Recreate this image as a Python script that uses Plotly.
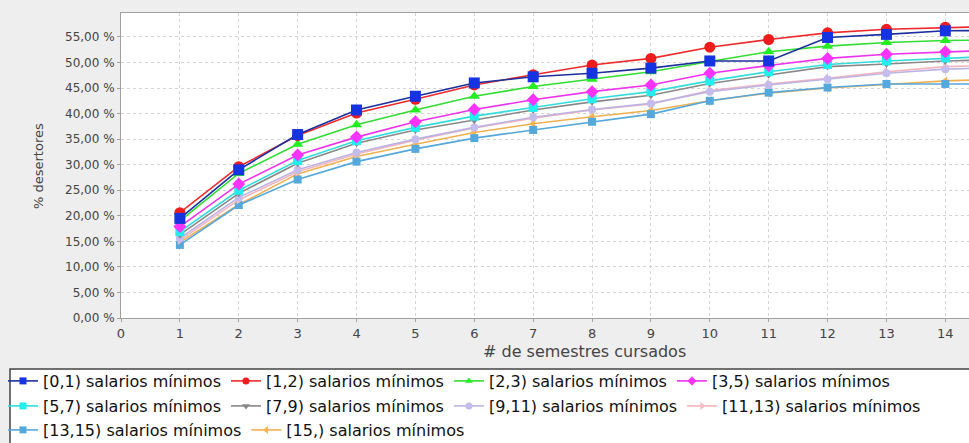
import plotly.graph_objects as go

# ---- data ----
semestres = list(range(1, 16))
x_ticks = list(range(0, 16))
y_ticks = [0, 5, 10, 15, 20, 25, 30, 35, 40, 45, 50, 55]
y_tick_labels = ["0,00 %", "5,00 %", "10,00 %", "15,00 %", "20,00 %", "25,00 %",
                 "30,00 %", "35,00 %", "40,00 %", "45,00 %", "50,00 %", "55,00 %"]

names = ["[0,1) salarios mínimos", "[1,2) salarios mínimos", "[2,3) salarios mínimos",
         "[3,5) salarios mínimos", "[5,7) salarios mínimos", "[7,9) salarios mínimos",
         "[9,11) salarios mínimos", "[11,13) salarios mínimos", "[13,15) salarios mínimos",
         "[15,) salarios mínimos"]

s_0_1 = [19.5, 29.0, 35.9, 40.7, 43.4, 46.0, 47.2, 47.9, 48.9, 50.3, 50.3, 54.9, 55.5, 56.2, 56.3]
s_1_2 = [20.6, 29.6, 35.7, 40.1, 42.8, 45.6, 47.6, 49.5, 50.8, 53.0, 54.5, 55.8, 56.5, 56.9, 57.1]
s_2_3 = [19.0, 28.3, 34.0, 37.8, 40.7, 43.4, 45.3, 46.7, 48.2, 50.2, 52.1, 53.2, 53.9, 54.3, 54.4]
s_3_5 = [17.9, 26.2, 31.9, 35.4, 38.4, 40.8, 42.7, 44.3, 45.6, 47.9, 49.4, 50.8, 51.6, 52.1, 52.5]
s_5_7 = [16.9, 25.0, 30.8, 34.7, 37.3, 39.5, 41.2, 42.9, 44.3, 46.4, 48.2, 49.6, 50.3, 50.9, 51.3]
s_7_9 = [16.3, 24.4, 30.3, 34.2, 36.8, 38.7, 40.7, 42.3, 43.6, 45.9, 47.6, 49.2, 49.7, 50.3, 50.6]
s_9_11 = [15.6, 23.6, 29.0, 32.4, 35.0, 37.3, 39.3, 40.8, 42.0, 44.3, 45.6, 46.7, 47.9, 48.7, 49.0]
s_11_13 = [15.2, 23.1, 28.6, 32.1, 34.8, 37.2, 39.1, 40.7, 41.9, 44.5, 45.8, 46.9, 48.2, 49.2, 49.5]
s_13_15 = [14.3, 22.1, 27.1, 30.6, 33.1, 35.2, 36.8, 38.4, 39.9, 42.5, 44.1, 45.1, 45.8, 45.8, 45.8]
s_15 = [14.8, 22.2, 28.2, 31.6, 34.0, 36.3, 38.0, 39.4, 40.6, 42.5, 44.0, 45.0, 45.7, 46.4, 46.8]

series = [s_0_1, s_1_2, s_2_3, s_3_5, s_5_7, s_7_9, s_9_11, s_11_13, s_13_15, s_15]

# ---- styles ----
line_colors = ["#1c2f9e", "#ee2a2a", "#33dd33", "#ee33ee", "#33dddd", "#888888",
               "#bcb4e4", "#f4b4bc", "#55a8dc", "#f0b050"]
marker_colors = ["#1533e0", "#ee1c1c", "#22ee22", "#ff33ff", "#22eeee", "#888888",
                 "#c4bcec", "#f8bcc4", "#55a8dc", "#f4b450"]
symbols = ["square", "circle", "triangle-up", "diamond", "square", "triangle-down",
           "circle", "triangle-right", "square", "triangle-left"]
sizes = [11, 11, 10, 10, 9, 8, 8, 8, 8, 8]
legend_ids = ["legend", "legend", "legend", "legend",
              "legend2", "legend2", "legend2", "legend2",
              "legend3", "legend3"]

fig = go.Figure()
# data traces, drawn in reverse order so the first series is on top
for i in list(range(len(series)))[::-1]:
    fig.add_trace(go.Scatter(
        x=semestres, y=series[i], name=names[i], mode="lines+markers",
        line=dict(color=line_colors[i], width=1.6),
        marker=dict(symbol=symbols[i], size=sizes[i], color=marker_colors[i],
                    line=dict(width=0)),
        showlegend=False, hoverinfo="x+y+name",
    ))
# legend-only entries (small symbols like the reference legend)
for i in range(len(series)):
    fig.add_trace(go.Scatter(
        x=[None], y=[None], name=names[i], mode="lines+markers",
        line=dict(color=line_colors[i], width=1.6),
        marker=dict(symbol=symbols[i], size=7, color=marker_colors[i],
                    line=dict(width=0)),
        legend=legend_ids[i], legendrank=i + 1, showlegend=True,
    ))

FONT = "DejaVu Sans"
L, T, R, B = 121, 13, 0, 125
W, H = 969, 443
pw = W - L - R
ph = H - T - B

def px_x(px):
    return (px - L) / pw

def px_y(py):
    return (H - B - py) / ph

leg_common = dict(orientation="h", xanchor="left", yanchor="middle",
                  bgcolor="rgba(0,0,0,0)", borderwidth=0,
                  font=dict(family=FONT, size=16, color="#111111"),
                  traceorder="normal")

fig.update_layout(
    width=W, height=H,
    margin=dict(l=L, r=R, t=T, b=B, pad=0, autoexpand=False),
    paper_bgcolor="#eeeeee",
    plot_bgcolor="#ffffff",
    showlegend=True,
    legend=dict(x=px_x(3), y=px_y(381), **leg_common),
    legend2=dict(x=px_x(3), y=px_y(406), **leg_common),
    legend3=dict(x=px_x(3), y=px_y(430), **leg_common),
    xaxis=dict(range=[0, (W - L) / 58.88], tickmode="array", tickvals=x_ticks,
               ticktext=[str(v) for v in x_ticks], automargin=False,
               showgrid=True, gridcolor="#d4d4d4", griddash="dot", gridwidth=1,
               showline=True, linecolor="#a0a0a0", linewidth=1, mirror=True,
               ticks="outside", ticklen=3, tickcolor="#a0a0a0",
               tickfont=dict(family=FONT, size=13, color="#444444"),
               zeroline=False),
    yaxis=dict(range=[0, (H - B - T) / 5.11], tickmode="array", tickvals=y_ticks,
               ticktext=y_tick_labels, automargin=False,
               showgrid=True, gridcolor="#d4d4d4", griddash="dot", gridwidth=1,
               showline=True, linecolor="#a0a0a0", linewidth=1, mirror=True,
               ticks="outside", ticklen=3, tickcolor="#a0a0a0",
               tickfont=dict(family=FONT, size=12, color="#444444"),
               zeroline=False),
    shapes=[dict(type="rect", xref="paper", yref="paper",
                 x0=px_x(10), x1=px_x(975), y0=px_y(369), y1=px_y(450),
                 fillcolor="#ffffff", line=dict(color="#444444", width=1.5),
                 layer="below")],
    annotations=[
        dict(text="# de semestres cursados", xref="paper", yref="paper",
             x=px_x(584), y=px_y(351), showarrow=False, xanchor="center",
             yanchor="middle", font=dict(family=FONT, size=16, color="#444444")),
        dict(text="% desertores", xref="paper", yref="paper", textangle=-90,
             x=px_x(38), y=px_y(166), showarrow=False, xanchor="center",
             yanchor="middle", font=dict(family=FONT, size=13, color="#444444")),
    ],
)

fig.write_html(
    "out.html",
    config={"displayModeBar": False},
    post_script="document.body.style.margin='0';document.body.style.padding='0';"
                "document.documentElement.style.overflow='hidden';",
)
